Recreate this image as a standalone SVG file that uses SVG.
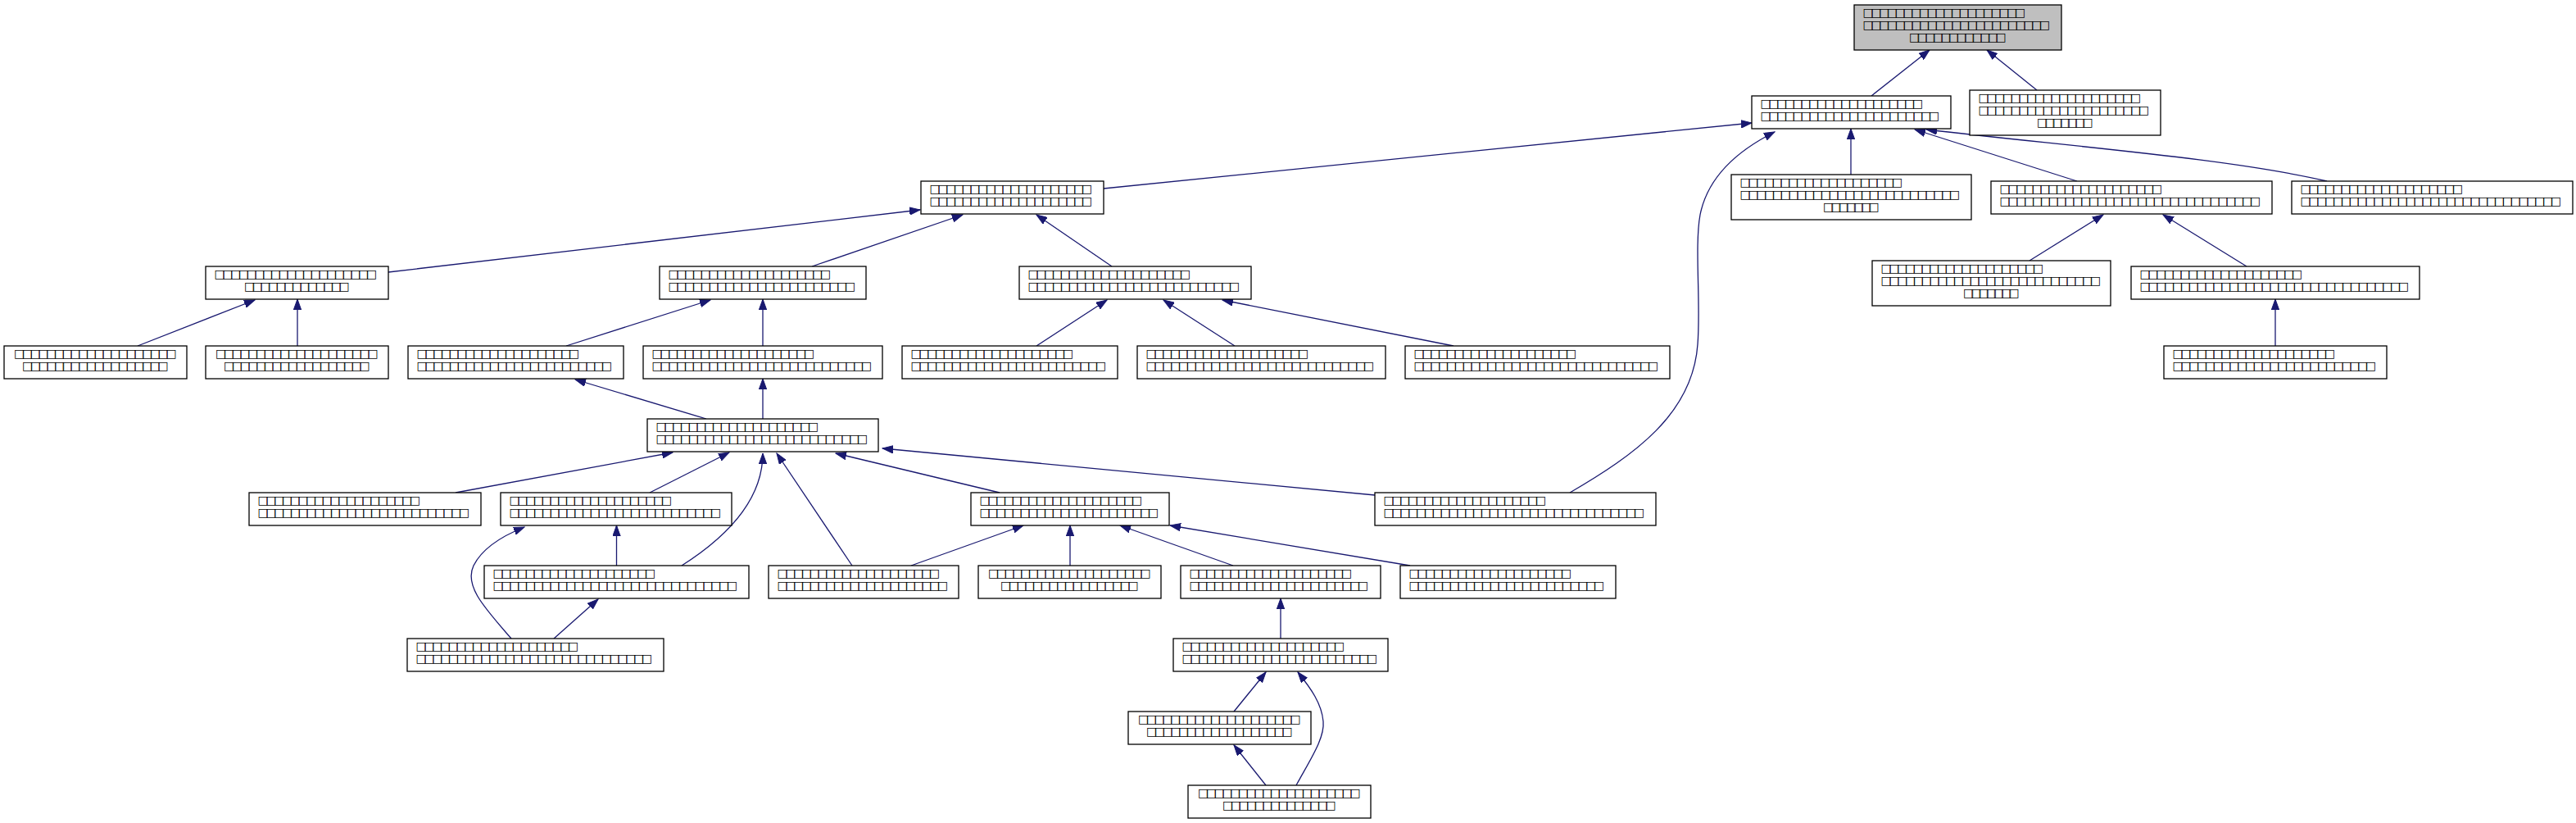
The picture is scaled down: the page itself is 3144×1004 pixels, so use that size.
<svg xmlns="http://www.w3.org/2000/svg" width="3144" height="1004" viewBox="0 0 3144 1004">
<style>
.n rect{fill:#fff;stroke:#000;stroke-width:1.3}
.n text{font-family:"DejaVu Sans","Liberation Sans",sans-serif;font-size:14.5px;fill:#000}
.c{text-anchor:middle}
.e path{fill:none;stroke:#191970;stroke-width:1.3;marker-end:url(#a)}
</style>
<defs>
<marker id="a" markerUnits="userSpaceOnUse" markerWidth="14" markerHeight="10" refX="13" refY="5" orient="auto" viewBox="0 0 14 10">
<path d="M0,0.3 L13,5 L0,9.7 Z" fill="#191970" stroke="#191970" stroke-width="1"/>
</marker>
</defs>
<rect width="3144" height="1004" fill="#fff"/>
<g class="e" id="edges">
<path d="M2284,117 L2355,61"/>
<path d="M2486,110 L2425,61"/>
<path d="M1347,230 L2138,150"/>
<path d="M2259,213 L2259,157"/>
<path d="M2535,221 L2337,158"/>
<path d="M2840,221 C2720,193 2520,178 2351,158"/>
<path d="M474,332 L1123,256"/>
<path d="M991,325 L1175,262"/>
<path d="M1357,325 L1265,262"/>
<path d="M2477,318 L2567,262"/>
<path d="M2742,325 L2640,262"/>
<path d="M168,422 L311,366"/>
<path d="M363,422 L363,365"/>
<path d="M691,422 L867,366"/>
<path d="M931,422 L931,365"/>
<path d="M1265,422 L1351,366"/>
<path d="M1507,422 L1420,366"/>
<path d="M1774,422 L1492,366"/>
<path d="M2777,422 L2777,365"/>
<path d="M862,511 L702,463"/>
<path d="M931,511 L931,462"/>
<path d="M556,601 L821,552"/>
<path d="M793,601 L890,552"/>
<path d="M832,690 C895,650 931,605 931,553"/>
<path d="M1040,690 L948,553"/>
<path d="M1220,601 L1020,553"/>
<path d="M1678,604 L1077,547"/>
<path d="M1916,601 C1995,555 2066,505 2072,420 C2076,370 2068,300 2075,262 C2083,222 2112,188 2166,161"/>
<path d="M752.5,690 L752.5,641"/>
<path d="M624,779 C592,742 566,715 578,690 C588,670 610,655 640,643"/>
<path d="M676,779 L730,731"/>
<path d="M1112,690 L1249,641"/>
<path d="M1306,690 L1306,641"/>
<path d="M1505,690 L1367,641"/>
<path d="M1721,690 L1428,641"/>
<path d="M1563,779 L1563,730"/>
<path d="M1506,868 L1545,820"/>
<path d="M1582,958 C1600,925 1617,900 1615,880 C1613,858 1600,840 1584,820"/>
<path d="M1545,958 L1506,909"/>
</g>
<g class="n" id="n0"><rect x="2263" y="6" width="253" height="55" style="fill:#bfbfbf"/>
<text x="2273.5" y="19.8" textLength="199">□□□□□□□□□□□□□□□□□□□□</text>
<text x="2273.5" y="34.8" textLength="229">□□□□□□□□□□□□□□□□□□□□□□□</text>
<text class="c" x="2389.5" y="49.8" textLength="119">□□□□□□□□□□□□</text></g>
<g class="n" id="n1"><rect x="2138" y="117" width="243" height="40"/>
<text x="2148.5" y="130.8" textLength="199">□□□□□□□□□□□□□□□□□□□□</text>
<text x="2148.5" y="145.8" textLength="219">□□□□□□□□□□□□□□□□□□□□□□</text></g>
<g class="n" id="n2"><rect x="2404" y="110" width="233" height="55"/>
<text x="2414.5" y="123.8" textLength="199">□□□□□□□□□□□□□□□□□□□□</text>
<text x="2414.5" y="138.8" textLength="209">□□□□□□□□□□□□□□□□□□□□□</text>
<text class="c" x="2520.5" y="153.8" textLength="69">□□□□□□□</text></g>
<g class="n" id="n3"><rect x="1124" y="221" width="223" height="40"/>
<text x="1134.5" y="234.8" textLength="199">□□□□□□□□□□□□□□□□□□□□</text>
<text x="1134.5" y="249.8" textLength="199">□□□□□□□□□□□□□□□□□□□□</text></g>
<g class="n" id="n4"><rect x="2113" y="213" width="293" height="55"/>
<text x="2123.5" y="226.8" textLength="199">□□□□□□□□□□□□□□□□□□□□</text>
<text x="2123.5" y="241.8" textLength="269">□□□□□□□□□□□□□□□□□□□□□□□□□□□</text>
<text class="c" x="2259.5" y="256.8" textLength="69">□□□□□□□</text></g>
<g class="n" id="n5"><rect x="2430" y="221" width="343" height="40"/>
<text x="2440.5" y="234.8" textLength="199">□□□□□□□□□□□□□□□□□□□□</text>
<text x="2440.5" y="249.8" textLength="319">□□□□□□□□□□□□□□□□□□□□□□□□□□□□□□□□</text></g>
<g class="n" id="n6"><rect x="2797" y="221" width="343" height="40"/>
<text x="2807.5" y="234.8" textLength="199">□□□□□□□□□□□□□□□□□□□□</text>
<text x="2807.5" y="249.8" textLength="319">□□□□□□□□□□□□□□□□□□□□□□□□□□□□□□□□</text></g>
<g class="n" id="n7"><rect x="251" y="325" width="223" height="40"/>
<text x="261.5" y="338.8" textLength="199">□□□□□□□□□□□□□□□□□□□□</text>
<text class="c" x="362.5" y="353.8" textLength="129">□□□□□□□□□□□□□</text></g>
<g class="n" id="n8"><rect x="805" y="325" width="252" height="40"/>
<text x="815.5" y="338.8" textLength="199">□□□□□□□□□□□□□□□□□□□□</text>
<text x="815.5" y="353.8" textLength="229">□□□□□□□□□□□□□□□□□□□□□□□</text></g>
<g class="n" id="n9"><rect x="1244" y="325" width="283" height="40"/>
<text x="1254.5" y="338.8" textLength="199">□□□□□□□□□□□□□□□□□□□□</text>
<text x="1254.5" y="353.8" textLength="259">□□□□□□□□□□□□□□□□□□□□□□□□□□</text></g>
<g class="n" id="n10"><rect x="2285" y="318" width="291" height="55"/>
<text x="2295.5" y="331.8" textLength="199">□□□□□□□□□□□□□□□□□□□□</text>
<text x="2295.5" y="346.8" textLength="269">□□□□□□□□□□□□□□□□□□□□□□□□□□□</text>
<text class="c" x="2430.5" y="361.8" textLength="69">□□□□□□□</text></g>
<g class="n" id="n11"><rect x="2601" y="325" width="352" height="40"/>
<text x="2611.5" y="338.8" textLength="199">□□□□□□□□□□□□□□□□□□□□</text>
<text x="2611.5" y="353.8" textLength="329">□□□□□□□□□□□□□□□□□□□□□□□□□□□□□□□□□</text></g>
<g class="n" id="n12"><rect x="5" y="422" width="223" height="40"/>
<text class="c" x="116.5" y="435.8" textLength="199">□□□□□□□□□□□□□□□□□□□□</text>
<text class="c" x="116.5" y="450.8" textLength="179">□□□□□□□□□□□□□□□□□□</text></g>
<g class="n" id="n13"><rect x="251" y="422" width="223" height="40"/>
<text class="c" x="362.5" y="435.8" textLength="199">□□□□□□□□□□□□□□□□□□□□</text>
<text class="c" x="362.5" y="450.8" textLength="179">□□□□□□□□□□□□□□□□□□</text></g>
<g class="n" id="n14"><rect x="498" y="422" width="263" height="40"/>
<text x="508.5" y="435.8" textLength="199">□□□□□□□□□□□□□□□□□□□□</text>
<text x="508.5" y="450.8" textLength="239">□□□□□□□□□□□□□□□□□□□□□□□□</text></g>
<g class="n" id="n15"><rect x="785" y="422" width="292" height="40"/>
<text x="795.5" y="435.8" textLength="199">□□□□□□□□□□□□□□□□□□□□</text>
<text x="795.5" y="450.8" textLength="269">□□□□□□□□□□□□□□□□□□□□□□□□□□□</text></g>
<g class="n" id="n16"><rect x="1101" y="422" width="263" height="40"/>
<text x="1111.5" y="435.8" textLength="199">□□□□□□□□□□□□□□□□□□□□</text>
<text x="1111.5" y="450.8" textLength="239">□□□□□□□□□□□□□□□□□□□□□□□□</text></g>
<g class="n" id="n17"><rect x="1388" y="422" width="303" height="40"/>
<text x="1398.5" y="435.8" textLength="199">□□□□□□□□□□□□□□□□□□□□</text>
<text x="1398.5" y="450.8" textLength="279">□□□□□□□□□□□□□□□□□□□□□□□□□□□□</text></g>
<g class="n" id="n18"><rect x="1715" y="422" width="323" height="40"/>
<text x="1725.5" y="435.8" textLength="199">□□□□□□□□□□□□□□□□□□□□</text>
<text x="1725.5" y="450.8" textLength="299">□□□□□□□□□□□□□□□□□□□□□□□□□□□□□□</text></g>
<g class="n" id="n19"><rect x="2641" y="422" width="272" height="40"/>
<text x="2651.5" y="435.8" textLength="199">□□□□□□□□□□□□□□□□□□□□</text>
<text x="2651.5" y="450.8" textLength="249">□□□□□□□□□□□□□□□□□□□□□□□□□</text></g>
<g class="n" id="n20"><rect x="790" y="511" width="282" height="40"/>
<text x="800.5" y="524.8" textLength="199">□□□□□□□□□□□□□□□□□□□□</text>
<text x="800.5" y="539.8" textLength="259">□□□□□□□□□□□□□□□□□□□□□□□□□□</text></g>
<g class="n" id="n21"><rect x="304" y="601" width="283" height="40"/>
<text x="314.5" y="614.8" textLength="199">□□□□□□□□□□□□□□□□□□□□</text>
<text x="314.5" y="629.8" textLength="259">□□□□□□□□□□□□□□□□□□□□□□□□□□</text></g>
<g class="n" id="n22"><rect x="611" y="601" width="282" height="40"/>
<text x="621.5" y="614.8" textLength="199">□□□□□□□□□□□□□□□□□□□□</text>
<text x="621.5" y="629.8" textLength="259">□□□□□□□□□□□□□□□□□□□□□□□□□□</text></g>
<g class="n" id="n23"><rect x="1185" y="601" width="242" height="40"/>
<text x="1195.5" y="614.8" textLength="199">□□□□□□□□□□□□□□□□□□□□</text>
<text x="1195.5" y="629.8" textLength="219">□□□□□□□□□□□□□□□□□□□□□□</text></g>
<g class="n" id="n24"><rect x="1678" y="601" width="343" height="40"/>
<text x="1688.5" y="614.8" textLength="199">□□□□□□□□□□□□□□□□□□□□</text>
<text x="1688.5" y="629.8" textLength="319">□□□□□□□□□□□□□□□□□□□□□□□□□□□□□□□□</text></g>
<g class="n" id="n25"><rect x="591" y="690" width="323" height="40"/>
<text x="601.5" y="703.8" textLength="199">□□□□□□□□□□□□□□□□□□□□</text>
<text x="601.5" y="718.8" textLength="299">□□□□□□□□□□□□□□□□□□□□□□□□□□□□□□</text></g>
<g class="n" id="n26"><rect x="938" y="690" width="232" height="40"/>
<text x="948.5" y="703.8" textLength="199">□□□□□□□□□□□□□□□□□□□□</text>
<text x="948.5" y="718.8" textLength="209">□□□□□□□□□□□□□□□□□□□□□</text></g>
<g class="n" id="n27"><rect x="1194" y="690" width="223" height="40"/>
<text class="c" x="1305.5" y="703.8" textLength="199">□□□□□□□□□□□□□□□□□□□□</text>
<text class="c" x="1305.5" y="718.8" textLength="169">□□□□□□□□□□□□□□□□□</text></g>
<g class="n" id="n28"><rect x="1441" y="690" width="244" height="40"/>
<text x="1451.5" y="703.8" textLength="199">□□□□□□□□□□□□□□□□□□□□</text>
<text x="1451.5" y="718.8" textLength="219">□□□□□□□□□□□□□□□□□□□□□□</text></g>
<g class="n" id="n29"><rect x="1709" y="690" width="263" height="40"/>
<text x="1719.5" y="703.8" textLength="199">□□□□□□□□□□□□□□□□□□□□</text>
<text x="1719.5" y="718.8" textLength="239">□□□□□□□□□□□□□□□□□□□□□□□□</text></g>
<g class="n" id="n30"><rect x="497" y="779" width="313" height="40"/>
<text x="507.5" y="792.8" textLength="199">□□□□□□□□□□□□□□□□□□□□</text>
<text x="507.5" y="807.8" textLength="289">□□□□□□□□□□□□□□□□□□□□□□□□□□□□□</text></g>
<g class="n" id="n31"><rect x="1432" y="779" width="262" height="40"/>
<text x="1442.5" y="792.8" textLength="199">□□□□□□□□□□□□□□□□□□□□</text>
<text x="1442.5" y="807.8" textLength="239">□□□□□□□□□□□□□□□□□□□□□□□□</text></g>
<g class="n" id="n32"><rect x="1377" y="868" width="223" height="40"/>
<text class="c" x="1488.5" y="881.8" textLength="199">□□□□□□□□□□□□□□□□□□□□</text>
<text class="c" x="1488.5" y="896.8" textLength="179">□□□□□□□□□□□□□□□□□□</text></g>
<g class="n" id="n33"><rect x="1450" y="958" width="223" height="40"/>
<text class="c" x="1561.5" y="971.8" textLength="199">□□□□□□□□□□□□□□□□□□□□</text>
<text class="c" x="1561.5" y="986.8" textLength="139">□□□□□□□□□□□□□□</text></g>
</svg>
